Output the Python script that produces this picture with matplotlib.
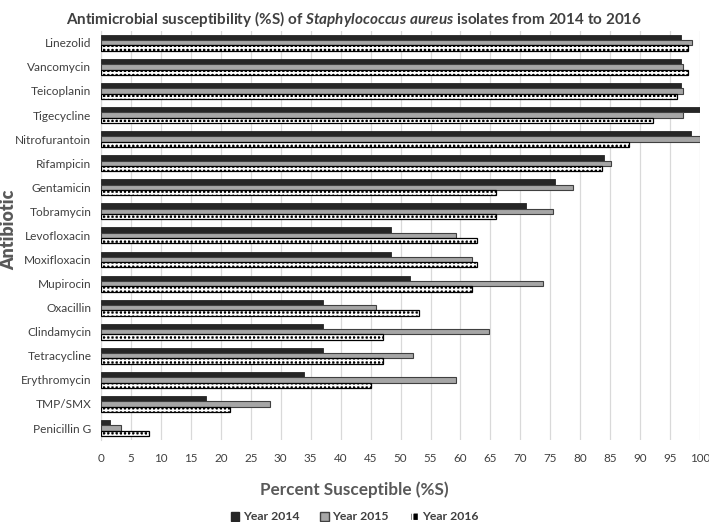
import matplotlib
matplotlib.use("Agg")
import matplotlib.pyplot as plt
import numpy as np
from matplotlib.patches import Patch

plt.rcParams['font.family'] = ['Lato', 'DejaVu Sans']
plt.rcParams['mathtext.fontset'] = 'custom'
plt.rcParams['mathtext.it'] = 'Lato:italic:bold'
plt.rcParams['mathtext.rm'] = 'Lato:bold'
plt.rcParams['hatch.linewidth'] = 1.3

antibiotics = ["Linezolid", "Vancomycin", "Teicoplanin", "Tigecycline", "Nitrofurantoin",
               "Rifampicin", "Gentamicin", "Tobramycin", "Levofloxacin", "Moxifloxacin",
               "Mupirocin", "Oxacillin", "Clindamycin", "Tetracycline", "Erythromycin",
               "TMP/SMX", "Penicillin G"]
year2014 = [96.8, 96.8, 96.8, 100.0, 98.5, 83.9, 75.8, 70.9, 48.4, 48.4, 51.6, 37.1, 37.1, 37.1, 33.9, 17.6, 1.5]
year2015 = [98.6, 97.2, 97.2, 97.2, 100.0, 85.2, 78.7, 75.4, 59.3, 62.0, 73.8, 45.9, 64.8, 52.1, 59.3, 28.2, 3.3]
year2016 = [98.0, 98.0, 96.2, 92.1, 88.2, 83.7, 66.0, 66.0, 62.7, 62.7, 62.0, 53.1, 47.1, 47.1, 45.1, 21.5, 8.0]
series_labels = ["Year 2014", "Year 2015", "Year 2016"]
xticks = list(range(0, 101, 5))

fig = plt.figure(figsize=(7.09, 5.22), dpi=100)
ax = fig.add_axes([0.1425, 0.157, 0.845, 0.784])

y = np.arange(len(antibiotics))
h = 0.22
ax.barh(y - h, year2014, height=h, color="#262626", edgecolor="#262626", linewidth=0.6, zorder=3)
ax.barh(y, year2015, height=h, color="#a6a6a6", edgecolor="#404040", linewidth=0.8, zorder=3)
ax.barh(y + h, year2016, height=h, color="black", edgecolor="white", hatch="++++", linewidth=0, zorder=3)
ax.barh(y + h, year2016, height=h, color="none", edgecolor="black", linewidth=0.9, zorder=4)

ax.set_ylim(len(antibiotics) - 0.5, -0.5)
ax.set_xlim(0, 100)
ax.set_yticks(y)
ax.set_yticklabels(antibiotics, fontsize=8.6, color="#404040")
ax.set_xticks(xticks)
ax.set_xticklabels([str(t) for t in xticks], fontsize=8.4, color="#404040")
ax.tick_params(length=0)
ax.tick_params(axis='y', pad=7)
ax.tick_params(axis='x', pad=9)
ax.grid(axis='x', color="#d9d9d9", linewidth=0.9, zorder=0)
for s in ["top", "right", "bottom"]:
    ax.spines[s].set_visible(False)
ax.spines["left"].set_color("#d9d9d9")

fig.text(0.5, 1 - 490 / 522, "Percent Susceptible (%S)", ha="center", va="center",
         fontsize=12.3, fontweight="bold", color="#595959")
fig.text(9 / 709, 1 - 230 / 522, "Antibiotic", ha="center", va="center", rotation=90,
         fontsize=12.8, fontweight="heavy", color="#595959")

fig.text(0.5, 0.982, "Antimicrobial susceptibility (%S) of $Staphylococcus\\ aureus$ isolates from 2014 to 2016",
         ha="center", va="top", fontsize=11.0, fontweight="bold", color="#404040")

handles = [Patch(facecolor="#262626", edgecolor="#262626"),
           Patch(facecolor="#a6a6a6", edgecolor="#404040"),
           Patch(facecolor="black", edgecolor="white", hatch="++")]
fig.legend(handles, series_labels, loc="center", bbox_to_anchor=(0.5, 1 - 517 / 522), ncol=3, frameon=False,
           prop={"size": 8.8, "weight": "bold"}, labelcolor="#404040",
           handlelength=0.7, handleheight=0.7, handletextpad=0.3, columnspacing=1.7,
           borderpad=0, borderaxespad=0)

fig.savefig("out.png", dpi=100)
